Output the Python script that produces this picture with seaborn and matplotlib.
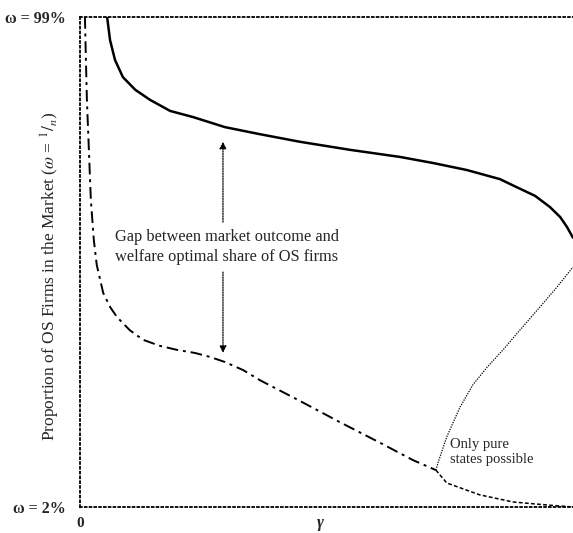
import numpy as np
import pandas as pd
import matplotlib
matplotlib.use("Agg")
import matplotlib.pyplot as plt
import seaborn as sns

# market outcome (solid)
market_x = [0.055, 0.061, 0.071, 0.087, 0.112, 0.142, 0.183, 0.229, 0.294, 0.365, 0.446,
            0.548, 0.649, 0.716, 0.785, 0.852, 0.886, 0.923, 0.953, 0.974, 0.988, 1.0]
market_y = [99, 94.4, 90.5, 87.1, 84.6, 82.6, 80.4, 79.2, 77.2, 75.8, 74.3,
            72.7, 71.3, 70.1, 68.7, 66.9, 65.3, 63.6, 61.4, 59.4, 57.4, 55.3]

# welfare optimum (dash-dot)
welfare_x = [0.010, 0.012, 0.014, 0.018, 0.022, 0.028, 0.034, 0.047, 0.061, 0.075, 0.101, 0.128,
             0.162, 0.197, 0.233, 0.264, 0.294, 0.331, 0.365, 0.446, 0.527, 0.609, 0.675, 0.722]
welfare_y = [99, 90.5, 82.6, 72.7, 62.8, 54.9, 49.9, 44.4, 41.6, 39.6, 37.0, 35.1,
             33.9, 33.1, 32.5, 31.7, 30.7, 29.1, 27.1, 23.0, 18.8, 14.7, 11.3, 9.3]

# continuation after the boundary (dashed)
tail_x = [0.722, 0.744, 0.811, 0.878, 0.947, 1.0]
tail_y = [9.3, 6.75, 4.4, 3.0, 2.4, 2.0]

# boundary of pure states (dotted)
bound_x = [0.722, 0.726, 0.744, 0.771, 0.797, 0.826, 0.858, 0.892, 0.933, 0.968, 1.0]
bound_y = [9.3, 10.7, 15.9, 21.8, 26.2, 29.7, 33.1, 37.0, 41.6, 45.6, 49.5]

ytick_vals = [2, 99]
ytick_labels = ["ω = 2%", "ω = 99%"]

sns.set_style("white")
plt.rcParams['font.family'] = ['Liberation Serif', 'DejaVu Serif']
plt.rcParams['mathtext.fontset'] = 'stix'

fig = plt.figure(figsize=(5.73, 5.33), dpi=100)
ax = fig.add_axes([80/573, 1 - 507/533, 493/573, 490/533])

sns.lineplot(x=market_x, y=market_y, sort=False, color='black', linewidth=1.8, ax=ax)
sns.lineplot(x=welfare_x, y=welfare_y, sort=False, color='black', linewidth=1.4,
             linestyle=(0, (6, 2.5, 1.5, 2.5)), ax=ax)
sns.lineplot(x=tail_x, y=tail_y, sort=False, color='black', linewidth=1.1,
             linestyle=(0, (2.5, 1.5)), ax=ax)
sns.lineplot(x=bound_x, y=bound_y, sort=False, color='black', linewidth=0.9,
             linestyle=(0, (1, 1)), ax=ax)
ax.plot([1.0, 1.0], [44, 58], color='0.7', linewidth=0.8, linestyle=':', clip_on=False)

# gap arrow
arrow = dict(arrowstyle='-|>', color='black', linewidth=0.9, linestyle=(0, (1, 1)),
             mutation_scale=10, shrinkA=0, shrinkB=0)
ax.annotate('', xy=(0.29, 74.3), xytext=(0.29, 58.4), arrowprops=arrow)
ax.annotate('', xy=(0.29, 32.5), xytext=(0.29, 48.5), arrowprops=arrow)
ax.text(0.071, 53.5, "Gap between market outcome and\nwelfare optimal share of OS firms",
        fontsize=11.8, va='center', ha='left', linespacing=1.35)
ax.text(0.751, 12.9, "Only pure\nstates possible", fontsize=10.5, va='center', ha='left',
        linespacing=1.15)

ax.set_xlim(0, 1)
ax.set_ylim(2, 99)
ax.set_xticks([0])
ax.set_xticklabels(["0"], fontsize=11, fontweight='bold')
ax.set_yticks(ytick_vals)
ax.set_yticklabels(ytick_labels, fontsize=11.5, fontweight='bold')
ax.tick_params(axis='y', length=0, pad=10)
ax.tick_params(axis='x', length=0, pad=7)
ax.set_xlabel("γ", fontsize=12, style='italic', fontweight='bold')
ax.xaxis.set_label_coords(0.487, -0.016)
ax.set_ylabel("Proportion of OS Firms in the Market ($\\omega$ = $^{1}/_{n}$)", fontsize=12.5)
ax.yaxis.set_label_coords(-0.036, 0.47)

for side in ['left', 'top', 'bottom']:
    ax.spines[side].set_linestyle(':')
    ax.spines[side].set_linewidth(1.3)
    ax.spines[side].set_color('black')
ax.spines['right'].set_visible(False)

fig.savefig("out.png", dpi=100)
